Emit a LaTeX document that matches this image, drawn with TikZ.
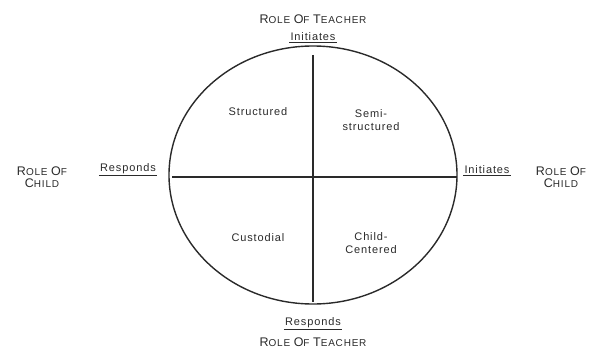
\documentclass[tikz,border=0pt]{standalone}
\usepackage{fontspec}
\setmainfont{Liberation Sans}[LetterSpace=8]
\usetikzlibrary{positioning}
\definecolor{ink}{HTML}{2A2A2A}
\newcommand{\fakesc}[2]{{\fontsize{12.5}{14}\selectfont #1}{\fontsize{10}{12}\selectfont #2}}
\tikzset{
  role/.style={align=center,inner sep=1pt,text=ink,font=\fontsize{10}{12}\selectfont},
  quad/.style={align=center,inner sep=1pt,text=ink,font=\fontsize{11}{12.5}\selectfont},
  ends/.style={inner sep=1pt,text=ink,font=\fontsize{11}{12.5}\selectfont},
  ul/.style={draw=ink,line width=1.2pt},
  ax/.style={draw=ink,line width=1.4pt},
}
\begin{document}
\begin{tikzpicture}[x=1pt,y=-1pt]
  \useasboundingbox (0,0) rectangle (594,350);
  \draw[ax] (313,175) ellipse [x radius=144,y radius=129];

  \coordinate (vtop) at (313,55);
  \coordinate (vbot) at (313,302);
  \coordinate (hl) at (172,177);
  \coordinate (hr) at (457,177);
  \draw[ax] (vtop) -- (vbot);
  \draw[ax] (hl) -- (hr);

  \node[role] (tteach) at (313,19) {\fakesc{R}{OLE} \fakesc{O}{F} \fakesc{T}{EACHER}};
  \node[ends] (tinit) at (313,37) {Initiates};
  \node[ends] (bresp) at (313,323) {Responds};
  \node[role] (bteach) at (313,342) {\fakesc{R}{OLE} \fakesc{O}{F} \fakesc{T}{EACHER}};

  \node[role] (lchild) at (42,177) {\fakesc{R}{OLE} \fakesc{O}{F}\\\fakesc{C}{HILD}};
  \node[ends] (lresp) at (128,169) {Responds};
  \node[ends] (rinit) at (487,170) {Initiates};
  \node[role] (rchild) at (561,177) {\fakesc{R}{OLE} \fakesc{O}{F}\\\fakesc{C}{HILD}};

  \draw[ul] (tinit.south west) -- (tinit.south east);
  \draw[ul] (bresp.south west) -- (bresp.south east);
  \draw[ul] (lresp.south west) -- (lresp.south east);
  \draw[ul] (rinit.south west) -- (rinit.south east);

  \node[quad] (struct) at (258,112) {Structured};
  \node[quad] (semi) at (371,120) {Semi-\\structured};
  \node[quad] (cust) at (258,238) {Custodial};
  \node[quad] (childc) at (371,243) {Child-\\Centered};
\end{tikzpicture}
\end{document}
